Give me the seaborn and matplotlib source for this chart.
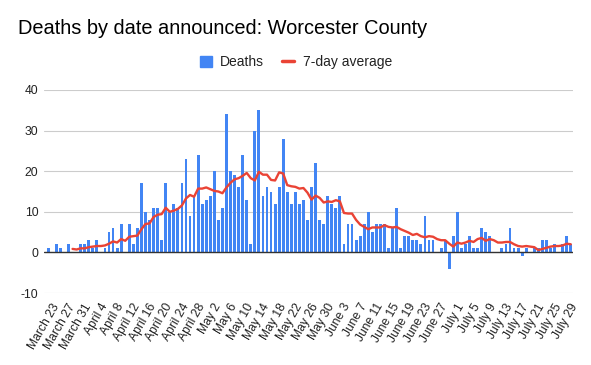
import numpy as np
import pandas as pd
import matplotlib
matplotlib.use("Agg")
import matplotlib.pyplot as plt
import matplotlib.transforms as mtransforms
from matplotlib.patches import Patch
from matplotlib.lines import Line2D
import seaborn as sns

# ---- data ----
deaths = [1, 0, 2, 1, 0, 2, 0, 0, 2, 2, 3, 1, 3, 0, 1, 5, 6, 1, 7, 0,
          7, 2, 6, 17, 10, 8, 11, 11, 3, 17, 10, 12, 11, 17, 23, 9, 14, 24, 12, 13,
          14, 20, 8, 11, 34, 20, 19, 16, 24, 13, 2, 30, 35, 14, 16, 15, 12, 16, 28, 15,
          12, 15, 12, 13, 8, 16, 22, 8, 7, 14, 12, 11, 14, 2, 7, 7, 3, 4, 7, 10,
          5, 7, 7, 7, 1, 6, 11, 1, 4, 4, 3, 3, 2, 9, 3, 3, 0, 1, 3, -4,
          4, 10, 1, 2, 4, 1, 1, 6, 5, 4, 0, 0, 1, 2, 6, 1, 1, -1, 1, 0,
          1, 1, 3, 3, 1, 2, 0, 2, 4, 2]

tick_labels = ["March 23", "March 27", "March 31", "April 4", "April 8", "April 12",
               "April 16", "April 20", "April 24", "April 28", "May 2", "May 6",
               "May 10", "May 14", "May 18", "May 22", "May 26", "May 30", "June 3",
               "June 7", "June 11", "June 15", "June 19", "June 23", "June 27",
               "July 1", "July 5", "July 9", "July 13", "July 17", "July 21",
               "July 25", "July 29"]

title = "Deaths by date announced: Worcester County"
series_names = ["Deaths", "7-day average"]
y_ticks = [-10, 0, 10, 20, 30, 40]

df = pd.DataFrame({"day": np.arange(len(deaths)), "deaths": deaths})
df["avg"] = df["deaths"].rolling(7).mean()

BLUE = "#4285F4"
RED = "#EA4335"
TXT = "#222222"

sns.set_style("white")
plt.rcParams["font.family"] = ["Liberation Sans", "DejaVu Sans"]

W, H = 591, 365
fig = plt.figure(figsize=(W / 100, H / 100), dpi=100)
ax = fig.add_axes([44 / W, (H - 293) / H, (573 - 44) / W, (293 - 90) / H])

sns.barplot(data=df, x="day", y="deaths", color=BLUE, saturation=1,
            width=0.7, errorbar=None, ax=ax, zorder=3, linewidth=0)
sns.lineplot(data=df, x="day", y="avg", color=RED, linewidth=1.7, ax=ax, zorder=4)

ax.set_xlim(-1.05, len(deaths) - 0.45)
ax.set_ylim(-10, 40)
ax.set_yticks(y_ticks)
ax.set_yticklabels([str(v) for v in y_ticks])
ax.set_xticks(np.arange(0, len(tick_labels) * 4, 4))
ax.set_xticklabels(tick_labels, rotation=60, ha="right", va="top",
                   rotation_mode="anchor")
ax.set_xlabel("")
ax.set_ylabel("")

for s in ax.spines.values():
    s.set_visible(False)
ax.grid(axis="y", color="#cccccc", linewidth=0.8, zorder=0)
ax.grid(axis="x", visible=False)
ax.axhline(0, color="#333333", linewidth=1.0, zorder=5)

ax.tick_params(axis="x", length=0, pad=6, labelsize=8.7, labelcolor=TXT)
ax.tick_params(axis="y", length=0, pad=4, labelsize=8.7, labelcolor=TXT)
offset = mtransforms.ScaledTranslation(3 / 100, 0, fig.dpi_scale_trans)
for lbl in ax.get_xticklabels():
    lbl.set_transform(lbl.get_transform() + offset)

fig.text(18.5 / W, 1 - 29 / H, title, fontsize=14.4, color="black",
         ha="left", va="center")

handles = [Patch(facecolor=BLUE, edgecolor=BLUE, label=series_names[0]),
           Line2D([0], [0], color=RED, linewidth=2.5, label=series_names[1])]
fig.legend(handles=handles, loc="center", bbox_to_anchor=(296 / W, 1 - 62 / H),
           ncol=2, frameon=False, fontsize=10, handlelength=0.85,
           handleheight=0.85, handletextpad=0.6, columnspacing=1.3,
           labelcolor=TXT)

fig.savefig("out.png", dpi=100)
